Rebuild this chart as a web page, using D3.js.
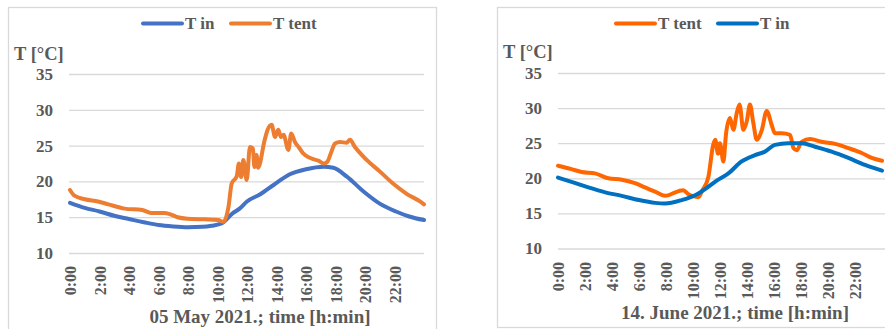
<!DOCTYPE html>
<html>
<head>
<meta charset="utf-8">
<script src="https://cdn.jsdelivr.net/npm/d3@7"></script>
<style>
	body { margin: 0; background: #fff; }
	svg { display: block; }
</style>
</head>
<body>
<div id="svg-container"></div>
<script>
// hour ticks shared by both charts
var hourTicks = [0, 2, 4, 6, 8, 10, 12, 14, 16, 18, 20, 22];
var tempTicks = [10, 15, 20, 25, 30, 35];

// 05 May 2021 - [hour, degC]
var mayIn = [
	[0, 17.0], [1, 16.3], [2, 15.8], [3, 15.2], [4, 14.75], [5, 14.3], [6, 13.9], [7, 13.7],
	[8, 13.6], [9, 13.65], [9.6, 13.8], [10.3, 14.15], [11, 15.5], [11.5, 16.2], [12, 17.2],
	[12.9, 18.2], [13.8, 19.5], [14.9, 21.0], [16, 21.7], [17.2, 22.05], [17.85, 21.9],
	[18.75, 20.7], [19.9, 18.6], [21, 16.9], [22.1, 15.8], [23, 15.1], [24, 14.6]
];
var mayTent = [
	[0, 18.8], [0.3, 18.0], [1, 17.5], [1.9, 17.2], [2.6, 16.8], [3.7, 16.2], [4.9, 16.0],
	[5.5, 15.6], [6.4, 15.6], [6.8, 15.4], [7.3, 15.0], [8.25, 14.75], [9.15, 14.7],
	[10.05, 14.6], [10.4, 14.35], [10.75, 16.5], [10.96, 19.7], [11.3, 20.7], [11.45, 22.5],
	[11.6, 20.6], [11.75, 23.0], [11.98, 20.2], [12.2, 24.8], [12.4, 24.6], [12.5, 22.0],
	[12.65, 23.7], [12.75, 21.9], [13.2, 25.8], [13.4, 27.2], [13.67, 27.9], [13.9, 26.2],
	[14.12, 27.2], [14.3, 26.2], [14.48, 26.5], [14.8, 24.4], [15.0, 26.7], [15.25, 25.5],
	[15.5, 24.8], [15.81, 23.9], [16.15, 23.4], [16.49, 23.1], [16.83, 22.9], [17.2, 22.5],
	[17.45, 22.75], [17.68, 23.9], [17.97, 25.3], [18.3, 25.5], [18.75, 25.4], [18.98, 25.8],
	[19.32, 24.8], [20.11, 23.0], [21.0, 21.4], [21.9, 19.7], [22.8, 18.3], [23.73, 17.2], [24, 16.8]
];

// 14 June 2021 - [hour, degC]
var juneIn = [
	[0, 20.1], [1, 19.5], [2.25, 18.7], [3.5, 18.0], [4.72, 17.5], [6, 16.9], [7.19, 16.5],
	[7.93, 16.4], [9.16, 16.9], [10.4, 17.85], [11, 18.6], [11.7, 19.6], [12.62, 20.7],
	[13.6, 22.4], [14.59, 23.3], [15.33, 23.8], [16.07, 24.76], [17.06, 25.0], [18.05, 25.0],
	[19.04, 24.5], [20.27, 23.8], [21.51, 22.9], [22.74, 21.9], [24, 21.1]
];
var juneTent = [
	[0, 21.8], [1, 21.3], [1.75, 20.9], [2.74, 20.7], [3.73, 20.0], [4.72, 19.8], [5.7, 19.3],
	[6.44, 18.7], [7.19, 18.1], [7.93, 17.5], [8.2, 17.6], [8.55, 17.9], [9.28, 18.3],
	[9.65, 17.75], [10.4, 17.3], [10.7, 18.3], [11.14, 20.2], [11.5, 24.8], [11.65, 25.5],
	[11.85, 23.5], [12.0, 25.0], [12.25, 22.4], [12.45, 26.4], [12.74, 28.6], [12.99, 26.9],
	[13.24, 29.3], [13.45, 30.5], [13.73, 26.9], [13.98, 28.1], [14.22, 30.5], [14.47, 27.85],
	[14.72, 25.5], [15.1, 26.9], [15.46, 29.6], [15.83, 27.6], [16.07, 26.4], [16.57, 26.4],
	[17.19, 26.2], [17.44, 24.3], [17.68, 24.0], [18.05, 25.2], [18.67, 25.6], [19.53, 25.2],
	[20.52, 24.9], [21.51, 24.3], [22.5, 23.6], [23.24, 22.9], [24, 22.5]
];

var FONT = "'Liberation Serif', 'Times New Roman', serif";
var INK = "#595959";

var svg = d3.select("#svg-container").append("svg")
	.attr("width", 885)
	.attr("height", 329);

function label (sel, size) {
	return sel
		.attr("font-family", FONT)
		.attr("font-weight", "bold")
		.attr("font-size", size)
		.attr("fill", INK);
}

function drawPanel (cfg) {
	var g = svg.append("g");

	// chart frame
	g.append("rect")
		.attr("x", cfg.frame[0] + 0.5)
		.attr("y", cfg.frame[1] + 0.5)
		.attr("width", cfg.frame[2])
		.attr("height", cfg.frame[3])
		.attr("fill", "none")
		.attr("stroke", "#d9d9d9")
		.attr("stroke-width", 1.3);

	var x = d3.scaleLinear().domain([0, 24]).range(cfg.xRange);
	var y = d3.scaleLinear().domain([10, 35]).range(cfg.yRange);

	var yAxis = g.append("g")
		.attr("transform", "translate(" + cfg.gridX[0] + ",0)")
		.call(d3.axisLeft(y)
			.tickValues(tempTicks)
			.tickSizeInner(-(cfg.gridX[1] - cfg.gridX[0]))
			.tickSizeOuter(0)
			.tickPadding(16));
	yAxis.select(".domain").remove();
	yAxis.selectAll("line").attr("stroke", "#d9d9d9").attr("stroke-width", 1.3);
	label(yAxis, 17);
	yAxis.selectAll("text").attr("fill", INK);

	var xAxis = g.append("g")
		.attr("transform", "translate(0," + cfg.tickTop + ")")
		.call(d3.axisBottom(x)
			.tickValues(hourTicks)
			.tickSize(0)
			.tickFormat(function (d) { return d + ":00"; }));
	xAxis.select(".domain").remove();
	label(xAxis, 16);
	xAxis.selectAll("text")
		.attr("fill", INK)
		.attr("transform", "rotate(-90)")
		.attr("text-anchor", "end")
		.attr("x", 0)
		.attr("y", 0)
		.attr("dy", "0.35em");

	var line = d3.line()
		.x(function (d) { return x(d[0]); })
		.y(function (d) { return y(d[1]); })
		.curve(d3.curveMonotoneX);

	cfg.series.forEach(function (s) {
		g.append("path")
			.datum(s.data)
			.attr("d", line)
			.attr("fill", "none")
			.attr("stroke", s.color)
			.attr("stroke-width", 4)
			.attr("stroke-linejoin", "round")
			.attr("stroke-linecap", "round");

		g.append("line")
			.attr("x1", s.legend)
			.attr("x2", s.legend + 39)
			.attr("y1", 23.5)
			.attr("y2", 23.5)
			.attr("stroke", s.color)
			.attr("stroke-width", 4)
			.attr("stroke-linecap", "round");

		label(g.append("text"), 17)
			.attr("x", s.legend + 42)
			.attr("y", 29)
			.text(s.name);
	});

	label(g.append("text"), 18.5)
		.attr("x", cfg.yTitle[0])
		.attr("y", cfg.yTitle[1])
		.text("T [°C]");

	label(g.append("text"), 19)
		.attr("x", cfg.xTitle[0])
		.attr("y", cfg.xTitle[1])
		.attr("text-anchor", "middle")
		.text(cfg.title);
}

drawPanel({
	frame: [8, 7, 428, 340],
	xRange: [70, 424],
	yRange: [253, 74],
	gridX: [69, 424],
	tickTop: 266,
	yTitle: [14, 60],
	xTitle: [260, 323],
	title: "05 May 2021.; time [h:min]",
	series: [
		{name: "T in", data: mayIn, color: "#4472c4", legend: 143},
		{name: "T tent", data: mayTent, color: "#ed7d31", legend: 231}
	]
});

drawPanel({
	frame: [497, 7, 400, 320],
	xRange: [558, 882],
	yRange: [248.5, 73],
	gridX: [558, 885],
	tickTop: 262,
	yTitle: [503, 58],
	xTitle: [735, 319],
	title: "14. June 2021.; time [h:min]",
	series: [
		{name: "T tent", data: juneTent, color: "#ff6600", legend: 616},
		{name: "T in", data: juneIn, color: "#0070c0", legend: 718}
	]
});
</script>
</body>
</html>
